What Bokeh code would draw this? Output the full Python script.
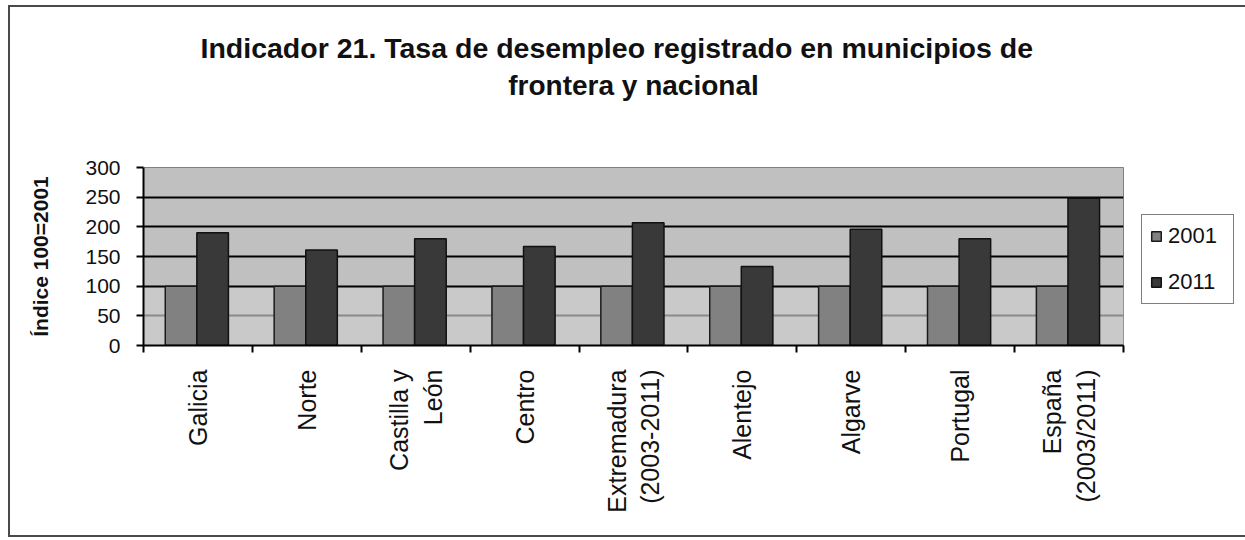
import math
from bokeh.plotting import figure
from bokeh.models import (FactorRange, Range1d, LinearAxis, CategoricalAxis, FixedTicker,
                          Grid, Legend, LegendItem, Title, BoxAnnotation, ColumnDataSource)
from bokeh.transform import dodge
from bokeh.embed import file_html
from bokeh.resources import INLINE

categories = ["Galicia", "Norte", "Castilla y\nLeón", "Centro", "Extremadura\n(2003-2011)",
              "Alentejo", "Algarve", "Portugal", "España\n(2003/2011)"]
values_2001 = [100, 100, 100, 100, 100, 100, 100, 100, 100]
values_2011 = [190, 161, 180, 167, 207, 133, 196, 180, 248]
series_names = ["2001", "2011"]
y_ticks = [0, 50, 100, 150, 200, 250, 300]

FONT = "Liberation Sans"
INK = "#111111"

src = ColumnDataSource(data=dict(cat=categories, v2001=values_2001, v2011=values_2011))

p = figure(frame_width=980, frame_height=178,
           x_range=FactorRange(factors=categories, range_padding=0),
           y_range=Range1d(0, 300), x_axis_location=None, output_backend="svg",
           toolbar_location=None, min_border_left=133, min_border_bottom=190,
           min_border_top=160, min_border_right=114)
p.styles = {"border": "2px solid #4a4a4a", "margin": "5px 0 0 8px"}
p.background_fill_color = "#c0c0c0"
p.border_fill_color = "white"
p.outline_line_color = "#808080"
p.outline_line_width = 1
p.grid.visible = False

# lighter lower band
p.add_layout(BoxAnnotation(bottom=0, top=100, fill_color="#c9c9c9", fill_alpha=1,
                           line_color=None, level="underlay"))
p.add_layout(Grid(dimension=1, ticker=FixedTicker(ticks=[50]), grid_line_color="#8a8a8a",
                  grid_line_width=2, level="underlay"))
p.add_layout(Grid(dimension=1, ticker=FixedTicker(ticks=[100, 150, 200, 250]),
                  grid_line_color="black", grid_line_width=2, level="underlay"))

bw = 0.29
r1 = p.vbar(x=dodge("cat", -0.155, range=p.x_range), top="v2001", width=bw, source=src,
            fill_color="#818181", line_color="#1a1a1a", line_width=1.5)
r2 = p.vbar(x=dodge("cat", 0.135, range=p.x_range), top="v2011", width=bw, source=src,
            fill_color="#393939", line_color="#111111", line_width=1.5)

# y axis
ya = p.yaxis[0]
ya.ticker = FixedTicker(ticks=y_ticks)
ya.axis_line_color = "black"
ya.axis_line_width = 2
ya.major_tick_in = 0
ya.major_tick_out = 7
ya.major_tick_line_width = 2
ya.minor_tick_line_color = None
ya.major_label_text_font = FONT
ya.major_label_text_font_size = "21px"
ya.major_label_text_color = INK
ya.major_label_standoff = 16
ya.axis_label = "Índice 100=2001"
ya.axis_label_text_font = FONT
ya.axis_label_text_font_style = "bold"
ya.axis_label_text_font_size = "21px"
ya.axis_label_text_color = INK
ya.axis_label_standoff = 30

# x axis: ticks between categories (minor ticks only, no labels), then category labels
tick_axis = LinearAxis(ticker=FixedTicker(ticks=[], minor_ticks=list(range(len(categories) + 1))),
                       axis_line_color="black", axis_line_width=2,
                       major_tick_line_color=None, major_tick_in=0, major_tick_out=0,
                       minor_tick_in=0, minor_tick_out=7, minor_tick_line_color="black",
                       minor_tick_line_width=2, major_label_standoff=0)
p.add_layout(tick_axis, "below")
cat_axis = CategoricalAxis(axis_line_color=None, major_tick_line_color=None,
                           minor_tick_line_color=None, major_label_orientation=math.pi / 2,
                           major_label_text_font=FONT, major_label_text_font_size="25px",
                           major_label_text_color=INK, major_label_standoff=11)
p.add_layout(cat_axis, "below")

# spacer between title and plot area (invisible white minor tick, no labels)
spacer = LinearAxis(ticker=FixedTicker(ticks=[], minor_ticks=[0]), axis_line_color=None,
                    major_tick_line_color=None, major_tick_in=0, major_tick_out=0,
                    minor_tick_line_color="white", minor_tick_in=0, minor_tick_out=65,
                    major_label_standoff=0)
p.add_layout(spacer, "above")

# title (two lines)
t2 = Title(text="frontera y nacional", align="center", text_font=FONT,
           text_font_size="28px", text_font_style="bold", text_color=INK, standoff=4)
t1 = Title(text="Indicador 21. Tasa de desempleo registrado en municipios de", align="left",
           offset=57, text_font=FONT, text_font_size="28.5px", text_font_style="bold",
           text_color=INK, standoff=4)
p.add_layout(t2, "above")
p.add_layout(t1, "above")

legend = Legend(items=[LegendItem(label=series_names[0], renderers=[r1]),
                       LegendItem(label=series_names[1], renderers=[r2])],
                location=(18, 41), orientation="vertical", border_line_color="black",
                border_line_width=1.5, background_fill_color="white", background_fill_alpha=1,
                label_text_font=FONT, label_text_font_size="22px", label_text_color=INK,
                glyph_width=12, glyph_height=12, label_standoff=6, label_width=57,
                label_height=24, spacing=20, padding=8, margin=0)
p.add_layout(legend, "right")

open("out.html", "w").write(file_html(p, INLINE))
